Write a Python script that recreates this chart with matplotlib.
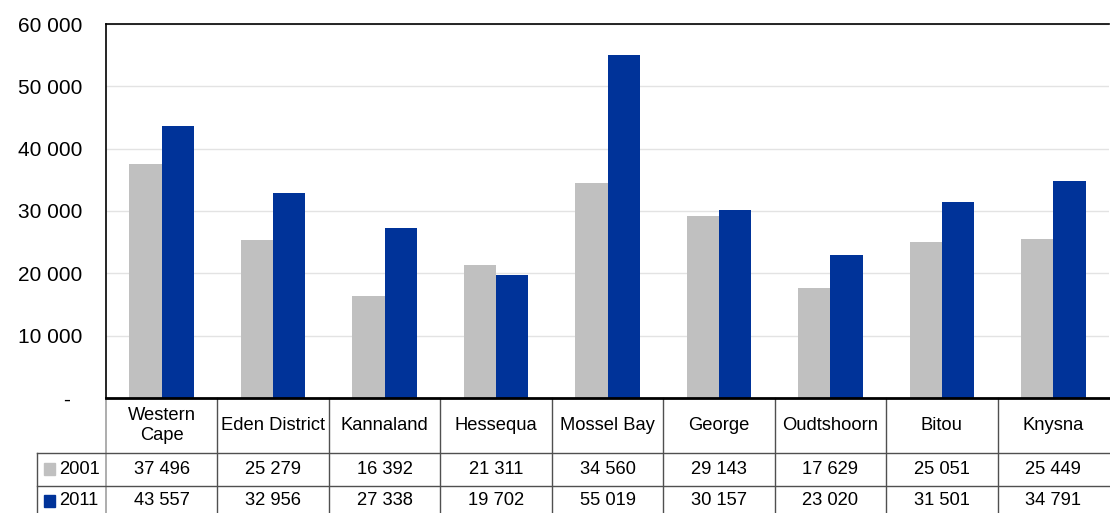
import matplotlib.pyplot as plt
import matplotlib.transforms as mtransforms
import numpy as np
from matplotlib.patches import Rectangle

categories = ["Western\nCape", "Eden District", "Kannaland", "Hessequa", "Mossel Bay",
              "George", "Oudtshoorn", "Bitou", "Knysna"]
series_names = ["2001", "2011"]
values_2001 = [37496, 25279, 16392, 21311, 34560, 29143, 17629, 25051, 25449]
values_2011 = [43557, 32956, 27338, 19702, 55019, 30157, 23020, 31501, 34791]
y_ticks = [0, 10000, 20000, 30000, 40000, 50000, 60000]

GREY = "#c0c0c0"
BLUE = "#003399"
FONT = ["Liberation Sans", "DejaVu Sans"]
TSIZE = 13.2


def fmt(v):
    return f"{v:,}".replace(",", " ") if v else "-  "


fig = plt.figure(figsize=(11.1, 5.13), dpi=100)
ax = fig.add_axes([106 / 1110, 1 - 398 / 513, 1003 / 1110, 374 / 513])

x = np.arange(len(categories))
w = 0.29
ax.bar(x - w / 2, values_2001, w, color=GREY, zorder=2)
ax.bar(x + w / 2, values_2011, w, color=BLUE, zorder=2)

ax.set_xlim(-0.5, len(categories) - 0.5)
ax.set_ylim(0, 60000)
ax.set_yticks(y_ticks)
ax.set_yticklabels([fmt(v) for v in y_ticks], fontsize=15, family=FONT)
ax.tick_params(axis="y", length=0, pad=17)
ax.set_xticks([])
ax.grid(axis="y", color="#e3e3e3", linewidth=1, zorder=0)
for side in ["left", "top"]:
    ax.spines[side].set_linewidth(1.2)
ax.spines["bottom"].set_linewidth(2)
ax.spines["right"].set_visible(False)

# data table under the axis
trans = mtransforms.blended_transform_factory(ax.transData, ax.transAxes)
row_lines = [-0.147, -0.235]
bottom = -0.33
line_kw = dict(transform=trans, clip_on=False, color="#505050", linewidth=1)

for b in np.arange(0.5, len(categories) - 0.5, 1.0):
    ax.plot([b, b], [0, bottom], **line_kw)
ax.plot([-0.5, -0.5], [0, bottom], transform=trans, clip_on=False,
        color="#a0a0a0", linewidth=1.2)
left = -0.5 - 69 / 111.5
for y in row_lines:
    ax.plot([left, len(categories) - 0.5], [y, y], **line_kw)
ax.plot([left, left], [row_lines[0], bottom], **line_kw)

for i, name in enumerate(categories):
    ax.text(i, -0.073, name, transform=trans, ha="center", va="center",
            fontsize=TSIZE, family=FONT, linespacing=1.25)
    ax.text(i, -0.191, fmt(values_2001[i]), transform=trans, ha="center",
            va="center", fontsize=TSIZE, family=FONT)
    ax.text(i, -0.275, fmt(values_2011[i]), transform=trans, ha="center",
            va="center", fontsize=TSIZE, family=FONT)

for label, color, yc in [(series_names[0], GREY, -0.191), (series_names[1], BLUE, -0.275)]:
    ax.add_patch(Rectangle((left + 0.065, yc - 0.016), 0.095, 0.032,
                           transform=trans, clip_on=False, color=color))
    ax.text(left + 0.2, yc, label, transform=trans, ha="left", va="center",
            fontsize=TSIZE, family=FONT)

fig.savefig("out.png", dpi=100)
